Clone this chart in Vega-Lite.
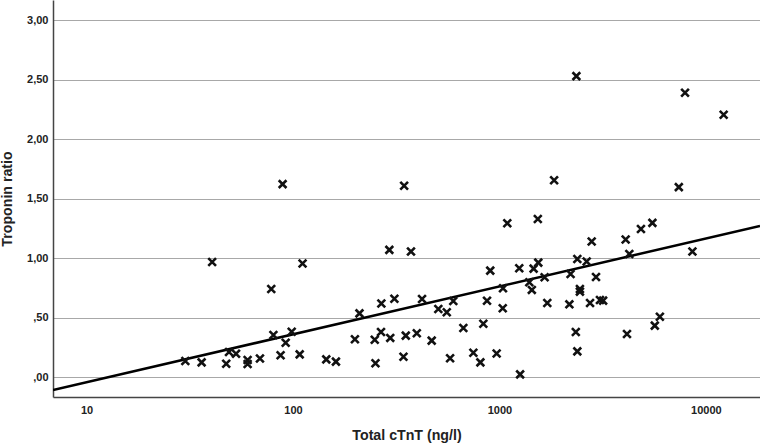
{
  "$schema": "https://vega.github.io/schema/vega-lite/v6.json",
  "autosize": {"type": "none"},
  "padding": {"left": 53, "top": 0, "right": 0, "bottom": 48},
  "width": 707,
  "height": 397,
  "background": "white",
  "view": {"stroke": null},
  "config": {
    "font": "Liberation Sans",
    "axis": {
      "labelFont": "Liberation Sans",
      "labelFontWeight": "bold",
      "labelFontSize": 11,
      "labelColor": "#222222",
      "titleFont": "Liberation Sans",
      "titleFontWeight": "bold",
      "titleFontSize": 14.2,
      "titleColor": "#222222",
      "domainColor": "#444444",
      "domainWidth": 1.5,
      "ticks": false
    }
  },
  "datasets": {
    "points": [
      {"cTnT": 30.1, "ratio": 0.137},
      {"cTnT": 36.1, "ratio": 0.126},
      {"cTnT": 40.6, "ratio": 0.969},
      {"cTnT": 47.5, "ratio": 0.114},
      {"cTnT": 49, "ratio": 0.213},
      {"cTnT": 53, "ratio": 0.198},
      {"cTnT": 60.3, "ratio": 0.145},
      {"cTnT": 60.3, "ratio": 0.112},
      {"cTnT": 69.2, "ratio": 0.158},
      {"cTnT": 78.5, "ratio": 0.742},
      {"cTnT": 80.4, "ratio": 0.356},
      {"cTnT": 87.1, "ratio": 0.185},
      {"cTnT": 89.1, "ratio": 1.622},
      {"cTnT": 92.2, "ratio": 0.291},
      {"cTnT": 98.6, "ratio": 0.383},
      {"cTnT": 107.8, "ratio": 0.193},
      {"cTnT": 111.3, "ratio": 0.956},
      {"cTnT": 145, "ratio": 0.151},
      {"cTnT": 161.5, "ratio": 0.132},
      {"cTnT": 199.6, "ratio": 0.32},
      {"cTnT": 210, "ratio": 0.537},
      {"cTnT": 249, "ratio": 0.316},
      {"cTnT": 251, "ratio": 0.118},
      {"cTnT": 268, "ratio": 0.62},
      {"cTnT": 267, "ratio": 0.381},
      {"cTnT": 293, "ratio": 1.07},
      {"cTnT": 296, "ratio": 0.331},
      {"cTnT": 310, "ratio": 0.66},
      {"cTnT": 343, "ratio": 0.173},
      {"cTnT": 345.6, "ratio": 1.608},
      {"cTnT": 352, "ratio": 0.35},
      {"cTnT": 373, "ratio": 1.056},
      {"cTnT": 398, "ratio": 0.37},
      {"cTnT": 422, "ratio": 0.658},
      {"cTnT": 470, "ratio": 0.308},
      {"cTnT": 506, "ratio": 0.574},
      {"cTnT": 556, "ratio": 0.546},
      {"cTnT": 577, "ratio": 0.16},
      {"cTnT": 598, "ratio": 0.641},
      {"cTnT": 669, "ratio": 0.414},
      {"cTnT": 748, "ratio": 0.207},
      {"cTnT": 809, "ratio": 0.126},
      {"cTnT": 836, "ratio": 0.45},
      {"cTnT": 871, "ratio": 0.643},
      {"cTnT": 903, "ratio": 0.896},
      {"cTnT": 970, "ratio": 0.2},
      {"cTnT": 1038, "ratio": 0.58},
      {"cTnT": 1041, "ratio": 0.748},
      {"cTnT": 1092, "ratio": 1.294},
      {"cTnT": 1248, "ratio": 0.916},
      {"cTnT": 1260, "ratio": 0.025},
      {"cTnT": 1396, "ratio": 0.798},
      {"cTnT": 1436, "ratio": 0.734},
      {"cTnT": 1465, "ratio": 0.913},
      {"cTnT": 1535, "ratio": 1.33},
      {"cTnT": 1543, "ratio": 0.963},
      {"cTnT": 1656, "ratio": 0.84},
      {"cTnT": 1706, "ratio": 0.624},
      {"cTnT": 1841, "ratio": 1.655},
      {"cTnT": 2183, "ratio": 0.613},
      {"cTnT": 2212, "ratio": 0.868},
      {"cTnT": 2345, "ratio": 0.381},
      {"cTnT": 2360, "ratio": 2.529},
      {"cTnT": 2385, "ratio": 0.994},
      {"cTnT": 2385, "ratio": 0.218},
      {"cTnT": 2455, "ratio": 0.742},
      {"cTnT": 2455, "ratio": 0.72},
      {"cTnT": 2648, "ratio": 0.972},
      {"cTnT": 2749, "ratio": 0.624},
      {"cTnT": 2800, "ratio": 1.14},
      {"cTnT": 2938, "ratio": 0.843},
      {"cTnT": 3070, "ratio": 0.65},
      {"cTnT": 3180, "ratio": 0.644},
      {"cTnT": 4090, "ratio": 1.157},
      {"cTnT": 4150, "ratio": 0.364},
      {"cTnT": 4260, "ratio": 1.036},
      {"cTnT": 4850, "ratio": 1.246},
      {"cTnT": 5510, "ratio": 1.297},
      {"cTnT": 5660, "ratio": 0.434},
      {"cTnT": 5990, "ratio": 0.509},
      {"cTnT": 7400, "ratio": 1.597},
      {"cTnT": 7930, "ratio": 2.389},
      {"cTnT": 8610, "ratio": 1.056},
      {"cTnT": 12200, "ratio": 2.204}
    ],
    "fit": [
      {"cTnT": 6.88, "ratio": -0.106},
      {"cTnT": 18300, "ratio": 1.271}
    ]
  },
  "encoding": {
    "x": {
      "field": "cTnT",
      "type": "quantitative",
      "title": "Total cTnT (ng/l)",
      "scale": {"type": "log", "domain": [6.88, 18300], "nice": false},
      "axis": {
        "values": [10, 100, 1000, 10000],
        "format": "d",
        "grid": false,
        "labelPadding": 7,
        "titlePadding": 13
      }
    },
    "y": {
      "field": "ratio",
      "type": "quantitative",
      "title": "Troponin ratio",
      "scale": {"domain": [-0.165, 3.168], "nice": false, "zero": false},
      "axis": {
        "values": [0, 0.5, 1, 1.5, 2, 2.5, 3],
        "labelExpr": "datum.value < 1 ? ',' + format(datum.value * 100, '02d') : replace(format(datum.value, '.2f'), '.', ',')",
        "grid": true,
        "gridColor": "#a8a8a8",
        "gridWidth": 1.2,
        "labelPadding": 5,
        "titlePadding": 12
      }
    }
  },
  "layer": [
    {
      "data": {"name": "fit"},
      "mark": {"type": "line", "color": "#000000", "strokeWidth": 2.5, "clip": true}
    },
    {
      "data": {"name": "points"},
      "mark": {
        "type": "point",
        "shape": "M-1,-1L1,1M-1,1L1,-1",
        "size": 60,
        "filled": false,
        "stroke": "#111111",
        "strokeWidth": 2.6,
        "opacity": 1
      }
    }
  ]
}
